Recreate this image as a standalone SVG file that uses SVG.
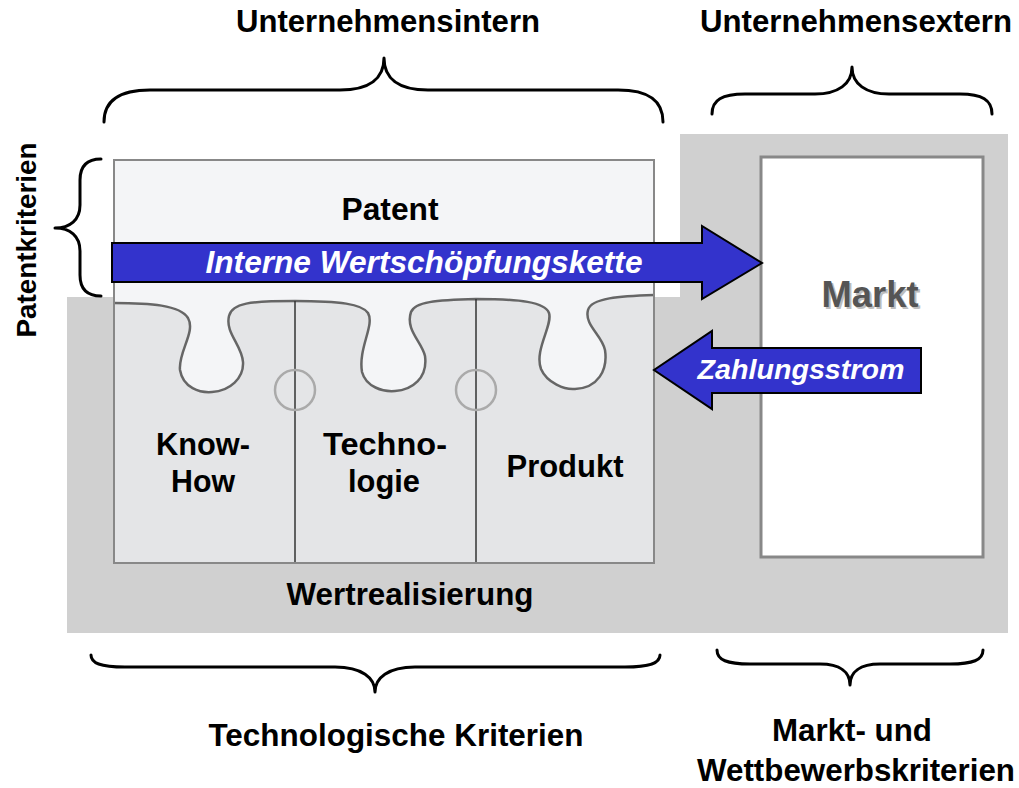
<svg xmlns="http://www.w3.org/2000/svg" width="1019" height="788" viewBox="0 0 1019 788">
<style>
.t{font-family:"Liberation Sans",Arial,sans-serif;font-weight:bold;font-size:30.5px;fill:#000;text-anchor:middle}
.w{fill:#fff;font-style:italic}
.br{fill:none;stroke:#000;stroke-width:3;stroke-linecap:round;stroke-linejoin:round}
.arr{fill:#3333cc;stroke:#000;stroke-width:2;stroke-linejoin:miter}
.knob{fill:none;stroke:#aaa;stroke-width:2.5}
</style>
<rect width="1019" height="788" fill="#fff"/>
<g id="background">
<path d="M67,297 L680,297 L680,134 L1008,134 L1008,633 L67,633 Z" fill="#d0d0d0"/>
</g>
<g id="patent-box">
<rect x="114" y="160" width="540" height="403" fill="#e4e5e7"/>
<path d="M114,303 C150,303 180,305 188,318 C196,332 178,352 180,370 C183,388 200,393 212,392 C230,391 244,378 243,362 C242,345 225,333 229,316 C232,303 250,301 295,301 C340,301 362,304 368,313 C375,325 358,348 362,372 C366,387 383,392 395,391 C412,390 428,378 425,356 C422,342 405,330 411,312 C415,302 435,300 476,299 C520,299 545,302 549,313 C553,325 534,350 541,369 C547,383 565,390 575,389 C598,388 608,370 605,350 C602,335 584,325 588,310 C591,298 620,296 654,295 L654,160 L114,160 Z" fill="#f4f5f7"/>
<path d="M114,303 C150,303 180,305 188,318 C196,332 178,352 180,370 C183,388 200,393 212,392 C230,391 244,378 243,362 C242,345 225,333 229,316 C232,303 250,301 295,301 C340,301 362,304 368,313 C375,325 358,348 362,372 C366,387 383,392 395,391 C412,390 428,378 425,356 C422,342 405,330 411,312 C415,302 435,300 476,299 C520,299 545,302 549,313 C553,325 534,350 541,369 C547,383 565,390 575,389 C598,388 608,370 605,350 C602,335 584,325 588,310 C591,298 620,296 654,295" fill="none" stroke="#666" stroke-width="2.5"/>
<line x1="295" y1="301" x2="295" y2="563" stroke="#333" stroke-width="1.5"/>
<line x1="476" y1="299" x2="476" y2="563" stroke="#333" stroke-width="1.5"/>
<circle class="knob" cx="295" cy="390" r="20"/>
<circle class="knob" cx="476" cy="390" r="20"/>
<rect x="114" y="160" width="540" height="403" fill="none" stroke="#888" stroke-width="2"/>
<text class="t" x="390" y="220" textLength="97" lengthAdjust="spacingAndGlyphs">Patent</text>
<text class="t" x="203" y="455" textLength="94" lengthAdjust="spacingAndGlyphs">Know-</text>
<text class="t" x="203" y="492" textLength="64" lengthAdjust="spacingAndGlyphs">How</text>
<text class="t" x="385" y="455" textLength="124" lengthAdjust="spacingAndGlyphs">Techno-</text>
<text class="t" x="384" y="492" textLength="72" lengthAdjust="spacingAndGlyphs">logie</text>
<text class="t" x="565" y="477" textLength="117" lengthAdjust="spacingAndGlyphs">Produkt</text>
</g>
<g id="markt">
<rect x="761" y="157" width="222" height="400" fill="#fff" stroke="#888" stroke-width="3"/>
<text class="t" x="872" y="309" textLength="97" lengthAdjust="spacingAndGlyphs" style="font-size:36px;fill:#bdbdbd">Markt</text>
<text class="t" x="870" y="307" textLength="97" lengthAdjust="spacingAndGlyphs" style="font-size:36px;fill:#555">Markt</text>
</g>
<g id="connectors">
<g id="arrow-wertschoepfung">
<polygon class="arr" points="112,243 702,243 702,226 762,263 702,299 702,282 112,282"/>
<text class="t w" x="424" y="273" textLength="437" lengthAdjust="spacingAndGlyphs">Interne Wertschöpfungskette</text>
</g>
<g id="arrow-zahlungsstrom">
<polygon class="arr" points="921,348 712,348 712,331 654,370 712,409 712,393 921,393"/>
<text class="t w" x="801" y="379" textLength="207" lengthAdjust="spacingAndGlyphs" style="font-size:28px">Zahlungsstrom</text>
</g>
</g>
<g id="wertrealisierung">
<text class="t" x="410" y="605" textLength="247" lengthAdjust="spacingAndGlyphs">Wertrealisierung</text>
</g>
<g id="braces">
<path class="br" d="M104,122 C104,100 120,90 150,90 L340,90 C370,90 384,78 384,58 C384,78 398,90 428,90 L618,90 C648,90 663,100 663,122"/>
<path class="br" d="M712,114 C712,100 722,94 745,94 L815,94 C838,94 852,84 852,67 C852,84 866,94 889,94 L960,94 C982,94 992,100 992,114"/>
<path class="br" d="M91,655 C91,663 100,667 125,667 L335,667 C362,667 375,678 375,692 C375,678 388,667 415,667 L625,667 C650,667 660,663 660,655"/>
<path class="br" d="M717,650 C717,660 727,664 750,664 L820,664 C840,664 850,672 850,685 C850,672 860,664 880,664 L950,664 C973,664 983,660 983,650"/>
<path class="br" d="M101,159 C88,159 80,165 80,180 L80,205 C80,220 70,228 55,228 C70,228 80,236 80,251 L80,275 C80,290 88,296 101,296"/>
</g>
<g id="labels">
<text class="t" x="388" y="32" textLength="304" lengthAdjust="spacingAndGlyphs">Unternehmensintern</text>
<text class="t" x="856" y="32" textLength="312" lengthAdjust="spacingAndGlyphs">Unternehmensextern</text>
<text class="t" x="0" y="0" transform="translate(36,240) rotate(-90)" textLength="195" lengthAdjust="spacingAndGlyphs" style="font-size:27px">Patentkriterien</text>
<text class="t" x="396" y="746" textLength="375" lengthAdjust="spacingAndGlyphs">Technologische Kriterien</text>
<text class="t" x="852" y="741" textLength="160" lengthAdjust="spacingAndGlyphs">Markt- und</text>
<text class="t" x="856" y="781" textLength="318" lengthAdjust="spacingAndGlyphs">Wettbewerbskriterien</text>
</g>
</svg>
